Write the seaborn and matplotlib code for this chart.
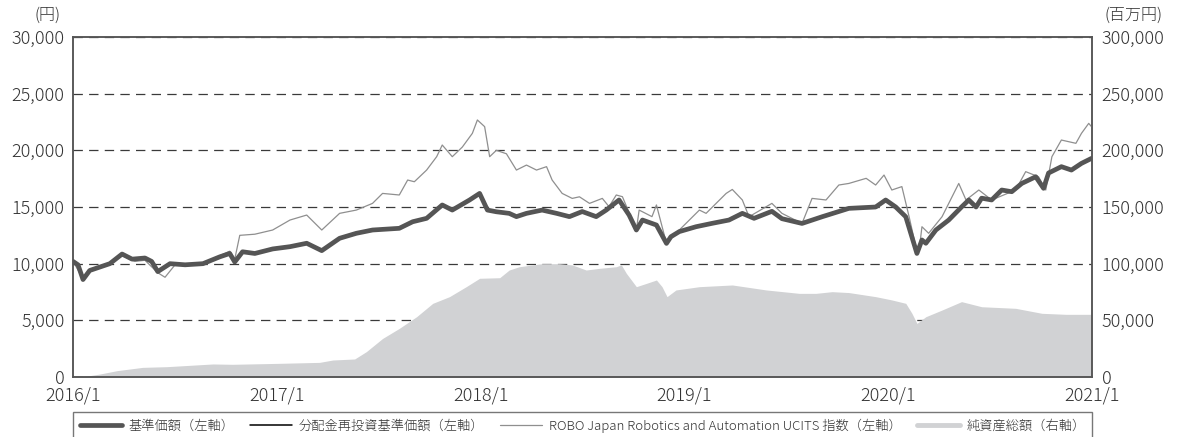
import pandas as pd
import seaborn as sns
import matplotlib.pyplot as plt
from matplotlib.lines import Line2D
from matplotlib.ticker import StrMethodFormatter

sns.set_theme(style="white")
plt.rcParams["font.family"] = ["Noto Sans CJK JP", "DejaVu Sans"]
plt.rcParams["font.weight"] = "light"

# 基準価額 (円) - the reinvested NAV is the same (no distributions)
nav_dates = [
    "2016-01-01", "2016-01-10", "2016-01-19", "2016-01-31", "2016-02-18", "2016-03-07",
    "2016-03-29", "2016-04-16", "2016-05-09", "2016-05-21", "2016-06-01", "2016-06-23",
    "2016-07-20", "2016-08-21", "2016-09-20", "2016-10-08", "2016-10-17", "2016-10-31",
    "2016-11-22", "2016-12-24", "2017-01-24", "2017-02-23", "2017-03-22", "2017-04-23",
    "2017-05-23", "2017-06-21", "2017-08-08", "2017-09-01", "2017-09-26", "2017-10-24",
    "2017-11-11", "2017-12-12", "2017-12-30", "2018-01-13", "2018-01-29", "2018-02-21",
    "2018-03-06", "2018-03-24", "2018-04-21", "2018-05-17", "2018-06-09", "2018-07-02",
    "2018-07-27", "2018-08-14", "2018-09-06", "2018-09-24", "2018-10-07", "2018-10-18",
    "2018-11-12", "2018-11-30", "2018-12-08", "2018-12-23", "2019-01-22", "2019-02-20",
    "2019-03-22", "2019-04-15", "2019-05-06", "2019-06-07", "2019-06-25", "2019-07-31",
    "2019-09-05", "2019-10-23", "2019-12-10", "2019-12-28", "2020-01-15", "2020-02-02",
    "2020-02-11", "2020-02-22", "2020-03-02", "2020-03-09", "2020-03-27", "2020-04-19",
    "2020-05-12", "2020-05-25", "2020-06-07", "2020-06-17", "2020-07-05", "2020-07-23",
    "2020-08-10", "2020-08-28", "2020-09-22", "2020-10-06", "2020-10-15", "2020-11-07",
    "2020-11-25", "2020-12-13", "2020-12-31",
]
nav_values = [
    10200, 9900, 8600, 9400, 9700, 10000,
    10850, 10400, 10500, 10200, 9300, 10000,
    9900, 10000, 10600, 10900, 10150, 11050,
    10900, 11300, 11500, 11800, 11150, 12240,
    12680, 12970, 13120, 13700, 14000, 15180,
    14730, 15620, 16200, 14730, 14580, 14440,
    14150, 14440, 14730, 14440, 14150, 14600,
    14150, 14730, 15620, 14290, 12970, 13850,
    13410, 11790, 12380, 12830, 13260, 13560,
    13850, 14440, 14000, 14620, 13970, 13550,
    14140, 14880, 15000, 15620, 15000, 14140,
    12680, 10900, 12090, 11800, 12970, 13850,
    15000, 15620, 15000, 15780, 15620, 16500,
    16350, 17080, 17670, 16650, 18000, 18560,
    18260, 18850, 19290,
]

# ROBO Japan Robotics and Automation UCITS 指数 (円換算)
index_dates = [
    "2016-01-01", "2016-01-19", "2016-01-31", "2016-03-07", "2016-03-29", "2016-04-21",
    "2016-05-09", "2016-06-01", "2016-06-14", "2016-07-02", "2016-08-21", "2016-09-20",
    "2016-10-08", "2016-10-17", "2016-10-26", "2016-11-22", "2016-12-24", "2017-01-24",
    "2017-02-23", "2017-03-22", "2017-04-23", "2017-05-23", "2017-06-21", "2017-07-09",
    "2017-08-08", "2017-08-23", "2017-09-04", "2017-09-26", "2017-10-14", "2017-10-24",
    "2017-11-11", "2017-11-29", "2017-12-17", "2017-12-26", "2018-01-08", "2018-01-17",
    "2018-01-29", "2018-02-16", "2018-03-06", "2018-03-24", "2018-04-11", "2018-04-29",
    "2018-05-09", "2018-05-27", "2018-06-14", "2018-06-27", "2018-07-15", "2018-08-07",
    "2018-08-19", "2018-09-01", "2018-09-12", "2018-10-07", "2018-10-12", "2018-11-04",
    "2018-11-12", "2018-11-30", "2018-12-23", "2019-01-28", "2019-02-09", "2019-03-17",
    "2019-03-28", "2019-04-15", "2019-04-27", "2019-06-07", "2019-06-25", "2019-07-31",
    "2019-08-18", "2019-09-12", "2019-10-05", "2019-10-23", "2019-11-23", "2019-12-10",
    "2019-12-25", "2020-01-08", "2020-01-26", "2020-02-08", "2020-02-20", "2020-02-26",
    "2020-03-02", "2020-03-14", "2020-04-07", "2020-05-07", "2020-05-20", "2020-06-12",
    "2020-07-05", "2020-08-17", "2020-09-04", "2020-09-27", "2020-10-10", "2020-10-21",
    "2020-11-07", "2020-12-03", "2020-12-13", "2020-12-26", "2020-12-31",
]
index_values = [
    10200, 8700, 9400, 10000, 10700, 10200,
    10300, 9200, 8800, 9900, 10000, 10700,
    11100, 10400, 12500, 12600, 12970, 13850,
    14290, 12970, 14440, 14730, 15320, 16200,
    16060, 17380, 17230, 18260, 19440, 20470,
    19440, 20290, 21500, 22680, 22090, 19440,
    20000, 19700, 18260, 18700, 18260, 18560,
    17380, 16200, 15760, 15900, 15320, 15760,
    15030, 16060, 15910, 12970, 14730, 14150,
    15180, 11790, 12970, 14730, 14440, 16200,
    16550, 15620, 14140, 15320, 14440, 13550,
    15760, 15620, 16940, 17080, 17530, 16940,
    17820, 16500, 16800, 14140, 11500, 11200,
    13260, 12680, 14140, 17080, 15620, 16500,
    15620, 16500, 18120, 17670, 16500, 19440,
    20910, 20620, 21500, 22380, 22090,
]

# 純資産総額 (百万円)
asset_dates = [
    "2016-01-01", "2016-01-22", "2016-02-18", "2016-03-20", "2016-05-05", "2016-06-17",
    "2016-09-08", "2016-10-13", "2016-12-31", "2017-03-18", "2017-04-11", "2017-05-20",
    "2017-06-10", "2017-07-09", "2017-08-08", "2017-09-08", "2017-10-07", "2017-11-06",
    "2017-12-06", "2017-12-30", "2018-02-04", "2018-02-21", "2018-03-11", "2018-04-21",
    "2018-05-22", "2018-06-14", "2018-07-09", "2018-08-02", "2018-09-01", "2018-09-10",
    "2018-09-19", "2018-10-07", "2018-10-25", "2018-11-12", "2018-11-22", "2018-12-01",
    "2018-12-17", "2019-01-28", "2019-03-28", "2019-05-28", "2019-07-26", "2019-08-25",
    "2019-09-23", "2019-10-23", "2019-12-10", "2020-01-08", "2020-02-02", "2020-02-13",
    "2020-02-22", "2020-03-09", "2020-04-07", "2020-05-12", "2020-06-17", "2020-08-17",
    "2020-10-03", "2020-11-15", "2020-12-31",
]
asset_values = [
    0, 500, 2600, 5600, 8500, 9100,
    11500, 11200, 12000, 12900, 15000, 15900,
    22400, 34000, 42900, 53200, 65000, 70900,
    79700, 87100, 87600, 94400, 97300, 100000,
    100000, 98900, 94400, 95900, 97300, 99000,
    91500, 79700, 82600, 85600, 79700, 70900,
    76800, 79700, 81200, 76800, 73800, 73800,
    75300, 74500, 70900, 68000, 65000, 56200,
    47300, 53200, 59100, 66500, 62000, 60600,
    56200, 55300, 55300,
]

tick_dates = ["2016-01-01", "2017-01-01", "2018-01-01", "2019-01-01", "2020-01-01", "2021-01-01"]
tick_labels = ["2016/1", "2017/1", "2018/1", "2019/1", "2020/1", "2021/1"]

series_labels = [
    "基準価額（左軸）",
    "分配金再投資基準価額（左軸）",
    "ROBO Japan Robotics and Automation UCITS 指数（左軸）",
    "純資産総額（右軸）",
]

NAV_COLOR = "#555555"
INDEX_COLOR = "#8f8f8f"
AREA_COLOR = "#d1d2d4"
TEXT_COLOR = "#333333"
EDGE_COLOR = "#555555"

nav_df = pd.DataFrame({"date": pd.to_datetime(nav_dates), "value": nav_values})
index_df = pd.DataFrame({"date": pd.to_datetime(index_dates), "value": index_values})
asset_df = pd.DataFrame({"date": pd.to_datetime(asset_dates), "value": asset_values})

fig = plt.figure(figsize=(11.81, 4.37), dpi=100)
ax = fig.add_axes([0.0618, 0.1373, 0.8629, 0.778])
ax2 = ax.twinx()
# lines on top of the area, area on top of the grid
ax.set_zorder(ax2.get_zorder() + 1)
ax.patch.set_visible(False)

ax2.set_axisbelow(True)
ax2.fill_between(asset_df["date"], asset_df["value"], 0, color=AREA_COLOR, linewidth=0, zorder=1)
ax2.yaxis.grid(True, color="#3a3a3a", linewidth=0.9, linestyle=(0, (7.5, 5)))
ax2.xaxis.grid(False)

sns.lineplot(data=index_df, x="date", y="value", ax=ax, color=INDEX_COLOR, linewidth=0.9)
sns.lineplot(data=nav_df, x="date", y="value", ax=ax, color="black", linewidth=1.1)
sns.lineplot(data=nav_df, x="date", y="value", ax=ax, color=NAV_COLOR, linewidth=3.4)

ax.set_xlim(pd.Timestamp(tick_dates[0]), pd.Timestamp(tick_dates[-1]))
ax.set_ylim(0, 30000)
ax2.set_ylim(0, 300000)
ax.set_yticks(range(0, 30001, 5000))
ax2.set_yticks(range(0, 300001, 50000))
ax.yaxis.set_major_formatter(StrMethodFormatter("{x:,.0f}"))
ax2.yaxis.set_major_formatter(StrMethodFormatter("{x:,.0f}"))
ax.set_xticks(pd.to_datetime(tick_dates))
ax.set_xticklabels(tick_labels)
ax.set_xlabel("")
ax.set_ylabel("")
ax2.set_ylabel("")

ax.tick_params(axis="x", direction="in", length=5, width=1.1, color=EDGE_COLOR,
               labelsize=13, labelcolor=TEXT_COLOR, pad=7)
ax.tick_params(axis="y", length=0, labelsize=13, labelcolor=TEXT_COLOR, pad=6)
ax2.tick_params(axis="y", length=0, labelsize=13, labelcolor=TEXT_COLOR, pad=7)

for a in (ax, ax2):
    for spine in a.spines.values():
        spine.set_color(EDGE_COLOR)
        spine.set_linewidth(1.1)

lines = ax.get_lines()
handles = [
    lines[2],
    lines[1],
    lines[0],
    Line2D([], [], color=AREA_COLOR, linewidth=3.5),
]
leg = ax.legend(handles, series_labels, loc="upper left", bbox_to_anchor=(0, -0.102, 1, 0),
                mode="expand", ncol=4, borderaxespad=0, frameon=True, fancybox=False,
                edgecolor=EDGE_COLOR, fontsize=9.5, handlelength=3.2, handletextpad=0.5,
                borderpad=0.5)
leg.get_frame().set_linewidth(1.0)
for t in leg.get_texts():
    t.set_color(TEXT_COLOR)

fig.text(48 / 1181, 1 - 15 / 437, "(円)", ha="center", va="center", fontsize=11.5, color=TEXT_COLOR)
fig.text(1133 / 1181, 1 - 15 / 437, "(百万円)", ha="center", va="center", fontsize=11.5, color=TEXT_COLOR)

fig.savefig("out.png", dpi=100)
